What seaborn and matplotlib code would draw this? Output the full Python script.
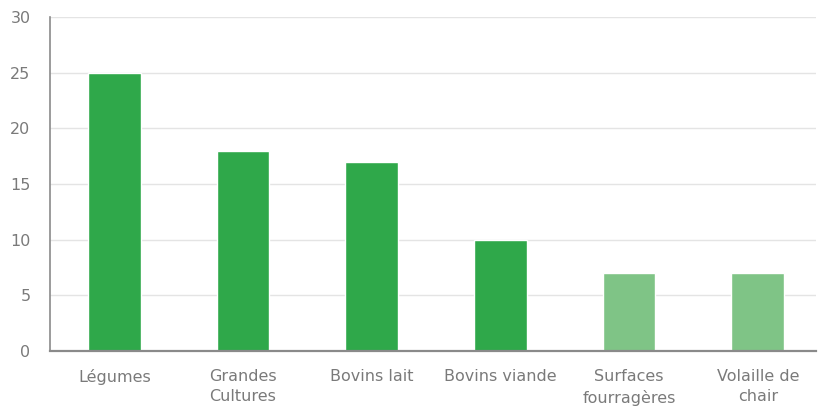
import matplotlib
matplotlib.use("Agg")
import matplotlib.pyplot as plt
import seaborn as sns
import pandas as pd

categories = ["Légumes", "Grandes\nCultures", "Bovins lait", "Bovins viande",
              "Surfaces\nfourragères", "Volaille de\nchair"]
values = [25, 18, 17, 10, 7, 7]
bar_colors = ["#2fa84a", "#2fa84a", "#2fa84a", "#2fa84a", "#7fc486", "#7fc486"]

sns.set_theme(style="white")
plt.rcParams["font.family"] = ["DejaVu Sans"]

df = pd.DataFrame({"cat": categories, "val": values})

fig = plt.figure(figsize=(8.19, 4.07), dpi=100)
ax = fig.add_axes([0.061, 0.1376, 0.935, 0.8206])

sns.barplot(data=df, x="cat", y="val", hue="cat", palette=bar_colors,
            width=0.41, legend=False, ax=ax, saturation=1)

ax.set_ylim(0, 30)
ax.set_xlim(-0.5, 5.45)
ax.set_yticks(range(0, 31, 5))
ax.yaxis.grid(True, color="#e4e4e4", linewidth=1)
ax.set_axisbelow(True)
ax.set_xlabel("")
ax.set_ylabel("")

for side in ["top", "right"]:
    ax.spines[side].set_visible(False)
ax.spines["left"].set_color("#8a8a8a")
ax.spines["bottom"].set_color("#8a8a8a")
ax.spines["left"].set_linewidth(1.2)
ax.spines["bottom"].set_linewidth(1.6)

ax.tick_params(axis="both", length=0, colors="#7a7a7a", labelsize=11.5)
ax.tick_params(axis="y", pad=14)
ax.tick_params(axis="x", pad=13)
for lbl in ax.get_xticklabels():
    lbl.set_linespacing(1.45)

fig.savefig("out.png", dpi=100)
